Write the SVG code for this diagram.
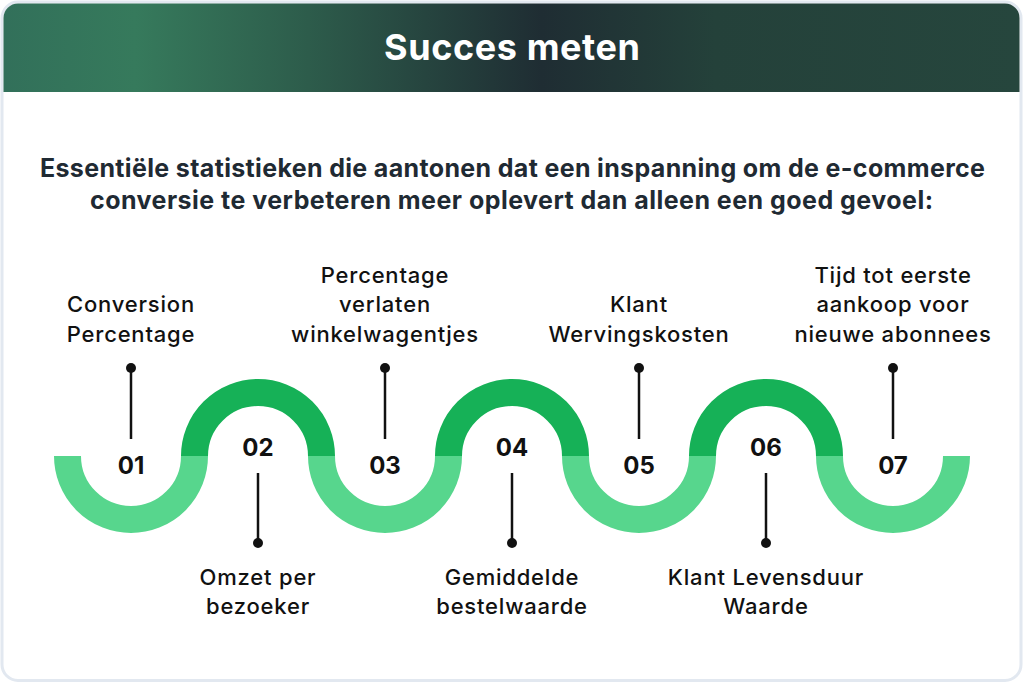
<svg xmlns="http://www.w3.org/2000/svg" width="1024" height="684" viewBox="0 0 1024 684">
  <defs>
    <linearGradient id="hdr" gradientUnits="userSpaceOnUse" x1="3.5" y1="0" x2="1019.5" y2="0">
      <stop offset="0" stop-color="#32705A"/>
      <stop offset="0.13" stop-color="#367A5C"/>
      <stop offset="0.3" stop-color="#2D5C4B"/>
      <stop offset="0.53" stop-color="#1F2D33"/>
      <stop offset="0.7" stop-color="#24413A"/>
      <stop offset="1" stop-color="#26463D"/>
    </linearGradient>
    <style>
      .title { font-family: Inter, "Liberation Sans", sans-serif; font-weight: 700; font-size: 36px; fill: #ffffff; text-anchor: middle; }
      .sub { font-family: Inter, "Liberation Sans", sans-serif; font-weight: 700; font-size: 25px; fill: #1F2A33; text-anchor: middle; }
      .num { font-family: Inter, "Liberation Sans", sans-serif; font-weight: 700; font-size: 24px; fill: #111111; text-anchor: middle; }
      .lbl { font-family: Inter, "Liberation Sans", sans-serif; font-weight: 500; font-size: 22px; letter-spacing: 0.8px; fill: #111111; text-anchor: middle; }
      .low { fill: none; stroke: #57D68D; stroke-width: 27; stroke-linecap: butt; }
      .up { fill: none; stroke: #16B157; stroke-width: 27; stroke-linecap: butt; }
      .lead { stroke: #111111; stroke-width: 2.5; }
      .dot { fill: #111111; }
    </style>
  </defs>

  <rect x="2" y="2" width="1019" height="678.5" rx="16" fill="#ffffff" stroke="#E2E8F0" stroke-width="3"/>
  <g id="header">
    <path d="M3.5,92 V18 A14.5,14.5 0 0 1 18,3.5 H1005 A14.5,14.5 0 0 1 1019.5,18 V92 Z" fill="url(#hdr)"/>
    <text class="title" x="512" y="60" textLength="256" lengthAdjust="spacing">Succes meten</text>
  </g>

  <g id="subtitle">
    <text class="sub" x="512.5" y="177" textLength="945" lengthAdjust="spacing">Essentiële statistieken die aantonen dat een inspanning om de e-commerce</text>
    <text class="sub" x="511.5" y="209" textLength="843" lengthAdjust="spacing">conversie te verbeteren meer oplevert dan alleen een goed gevoel:</text>
  </g>

  <g id="connectors">
    <line class="lead" x1="131" y1="368" x2="131" y2="439"/>
    <circle class="dot" cx="131" cy="368" r="5"/>
    <line class="lead" x1="385" y1="368" x2="385" y2="439"/>
    <circle class="dot" cx="385" cy="368" r="5"/>
    <line class="lead" x1="639" y1="368" x2="639" y2="439"/>
    <circle class="dot" cx="639" cy="368" r="5"/>
    <line class="lead" x1="893" y1="368" x2="893" y2="439"/>
    <circle class="dot" cx="893" cy="368" r="5"/>
    <line class="lead" x1="258" y1="473" x2="258" y2="543"/>
    <circle class="dot" cx="258" cy="543" r="5"/>
    <line class="lead" x1="512" y1="473" x2="512" y2="543"/>
    <circle class="dot" cx="512" cy="543" r="5"/>
    <line class="lead" x1="766" y1="473" x2="766" y2="543"/>
    <circle class="dot" cx="766" cy="543" r="5"/>
  </g>

  <g id="node-01">
    <path class="low" d="M67.5,456 A63.5,63.5 0 0 0 194.5,456"/>
    <text class="num" x="131" y="474">01</text>
    <text class="lbl" x="131" y="312">Conversion</text>
    <text class="lbl" x="131" y="342">Percentage</text>
  </g>
  <g id="node-02">
    <path class="up" d="M194.5,456 A63.5,63.5 0 0 1 321.5,456"/>
    <text class="num" x="258" y="456">02</text>
    <text class="lbl" x="258" y="585">Omzet per</text>
    <text class="lbl" x="258" y="614">bezoeker</text>
  </g>
  <g id="node-03">
    <path class="low" d="M321.5,456 A63.5,63.5 0 0 0 448.5,456"/>
    <text class="num" x="385" y="474">03</text>
    <text class="lbl" x="385" y="283">Percentage</text>
    <text class="lbl" x="385" y="312">verlaten</text>
    <text class="lbl" x="385" y="342">winkelwagentjes</text>
  </g>
  <g id="node-04">
    <path class="up" d="M448.5,456 A63.5,63.5 0 0 1 575.5,456"/>
    <text class="num" x="512" y="456">04</text>
    <text class="lbl" x="512" y="585">Gemiddelde</text>
    <text class="lbl" x="512" y="614">bestelwaarde</text>
  </g>
  <g id="node-05">
    <path class="low" d="M575.5,456 A63.5,63.5 0 0 0 702.5,456"/>
    <text class="num" x="639" y="474">05</text>
    <text class="lbl" x="639" y="312">Klant</text>
    <text class="lbl" x="639" y="342">Wervingskosten</text>
  </g>
  <g id="node-06">
    <path class="up" d="M702.5,456 A63.5,63.5 0 0 1 829.5,456"/>
    <text class="num" x="766" y="456">06</text>
    <text class="lbl" x="766" y="585">Klant Levensduur</text>
    <text class="lbl" x="766" y="614">Waarde</text>
  </g>
  <g id="node-07">
    <path class="low" d="M829.5,456 A63.5,63.5 0 0 0 956.5,456"/>
    <text class="num" x="893" y="474">07</text>
    <text class="lbl" x="893" y="283">Tijd tot eerste</text>
    <text class="lbl" x="893" y="312">aankoop voor</text>
    <text class="lbl" x="893" y="342">nieuwe abonnees</text>
  </g>
</svg>
